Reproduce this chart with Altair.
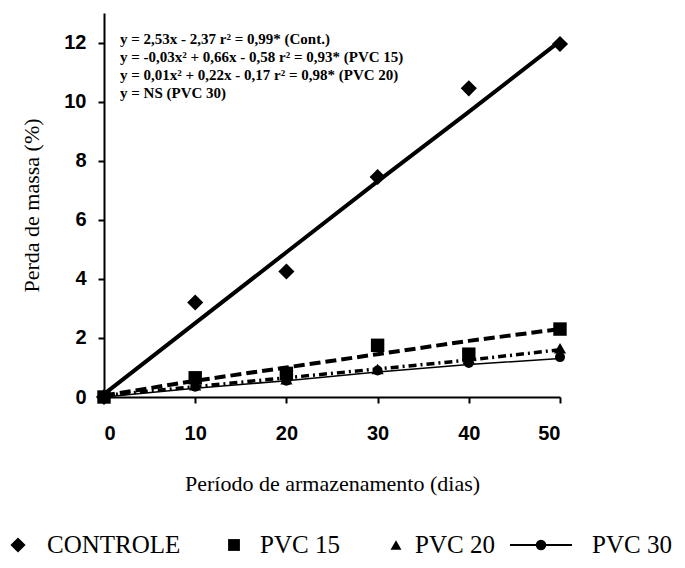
import altair as alt
import pandas as pd

days = [0, 10, 20, 30, 40, 50]
controle = [0.0, 3.2, 4.25, 7.45, 10.45, 11.95]
pvc15 = [0.0, 0.65, 0.8, 1.75, 1.45, 2.3]
pvc20 = [0.0, 0.4, 0.6, 0.95, 1.3, 1.65]
pvc30 = [0.0, 0.35, 0.55, 0.9, 1.15, 1.35]

fit_controle = [0.1, 2.5, 4.9, 7.3, 9.65, 12.05]
fit_pvc15 = [0.05, 0.55, 1.0, 1.45, 1.9, 2.3]
fit_pvc20 = [0.05, 0.35, 0.65, 0.95, 1.25, 1.6]
fit_pvc30 = [0.0, 0.3, 0.55, 0.85, 1.1, 1.3]

y_ticks = [0, 2, 4, 6, 8, 10, 12]
legend_labels = ["CONTROLE", "PVC 15", "PVC 20", "PVC 30"]
equations = [
    "y = 2,53x - 2,37 r² = 0,99* (Cont.)",
    "y = -0,03x² + 0,66x - 0,58 r² = 0,93* (PVC 15)",
    "y = 0,01x² + 0,22x - 0,17 r² = 0,98* (PVC 20)",
    "y =  NS (PVC 30)",
]

df = pd.DataFrame({
    "dia": days,
    "controle": controle, "pvc15": pvc15, "pvc20": pvc20, "pvc30": pvc30,
    "f_controle": fit_controle, "f_pvc15": fit_pvc15,
    "f_pvc20": fit_pvc20, "f_pvc30": fit_pvc30,
})

SERIF = "'Liberation Serif', 'Times New Roman', Times, serif"
SANS = "'Liberation Sans', Arial, Helvetica, sans-serif"

xenc = alt.X("dia:Q", scale=alt.Scale(domain=[0, 50], nice=False),
             axis=alt.Axis(values=days, title="Período de armazenamento (dias)",
                           labelPadding=20, titlePadding=30))


def yenc(field):
    return alt.Y(f"{field}:Q", scale=alt.Scale(domain=[0, 13], nice=False),
                 axis=alt.Axis(values=y_ticks, title="Perda de massa (%)",
                               labelPadding=12, titlePadding=20))


base = alt.Chart(df)

l30 = base.mark_line(color="black", strokeWidth=1.5).encode(x=xenc, y=yenc("f_pvc30"))
l20 = base.mark_line(color="black", strokeWidth=3.5, strokeDash=[8, 4, 2, 4]).encode(x=xenc, y=yenc("f_pvc20"))
l15 = base.mark_line(color="black", strokeWidth=4, strokeDash=[11, 5]).encode(x=xenc, y=yenc("f_pvc15"))
lc = base.mark_line(color="black", strokeWidth=4).encode(x=xenc, y=yenc("f_controle"))

p30 = base.mark_point(shape="circle", filled=True, color="black", size=100, opacity=1).encode(x=xenc, y=yenc("pvc30"))
p20 = base.mark_point(shape="triangle-up", filled=True, color="black", size=150, opacity=1).encode(x=xenc, y=yenc("pvc20"))
p15 = base.mark_point(shape="square", filled=True, color="black", size=180, opacity=1).encode(x=xenc, y=yenc("pvc15"))
pc = base.mark_point(shape="diamond", filled=True, color="black", size=260, opacity=1).encode(x=xenc, y=yenc("controle"))

one = alt.Chart(pd.DataFrame({"a": [0]}))

eq = one.mark_text(align="left", baseline="top", font=SERIF, fontWeight="bold",
                   fontSize=15, lineHeight=18, color="black").encode(
    x=alt.value(16), y=alt.value(19), text=alt.value(equations))

# legend row below the chart (pixel offsets relative to the plot area)
LY = 532
leg_layers = []
sym_specs = [("diamond", -86, 230), ("square", 130, 140), ("triangle-up", 292, 120), ("circle", 437, 110)]
for shape, px, sz in sym_specs:
    leg_layers.append(one.mark_point(shape=shape, filled=True, color="black", size=sz, opacity=1).encode(
        x=alt.value(px), y=alt.value(LY)))
leg_layers.append(one.mark_rule(color="black", strokeWidth=2).encode(
    x=alt.value(406), x2=alt.value(468), y=alt.value(LY)))
text_x = [-57, 156, 311, 488]
for lab, px in zip(legend_labels, text_x):
    leg_layers.append(one.mark_text(align="left", baseline="middle", font=SERIF, fontSize=25,
                                    color="black").encode(
        x=alt.value(px), y=alt.value(LY), text=alt.value(lab)))

chart = alt.layer(l30, l20, l15, lc, p30, p20, p15, pc, eq, *leg_layers).properties(
    width=456, height=384,
    autosize=alt.AutoSizeParams(type="none"),
    padding={"left": 96, "top": 5, "right": 117, "bottom": 163},
).configure_view(stroke=None).configure_axis(
    domainColor="black", domainWidth=2, tickColor="black", tickWidth=2, tickSize=6,
    grid=False, labelFont=SANS, labelFontWeight="bold", labelFontSize=20, labelColor="black",
    titleFont=SERIF, titleFontSize=22, titleFontWeight="normal", titleColor="black",
)

chart.save("out.html", embed_options={"renderer": "svg", "actions": False})
